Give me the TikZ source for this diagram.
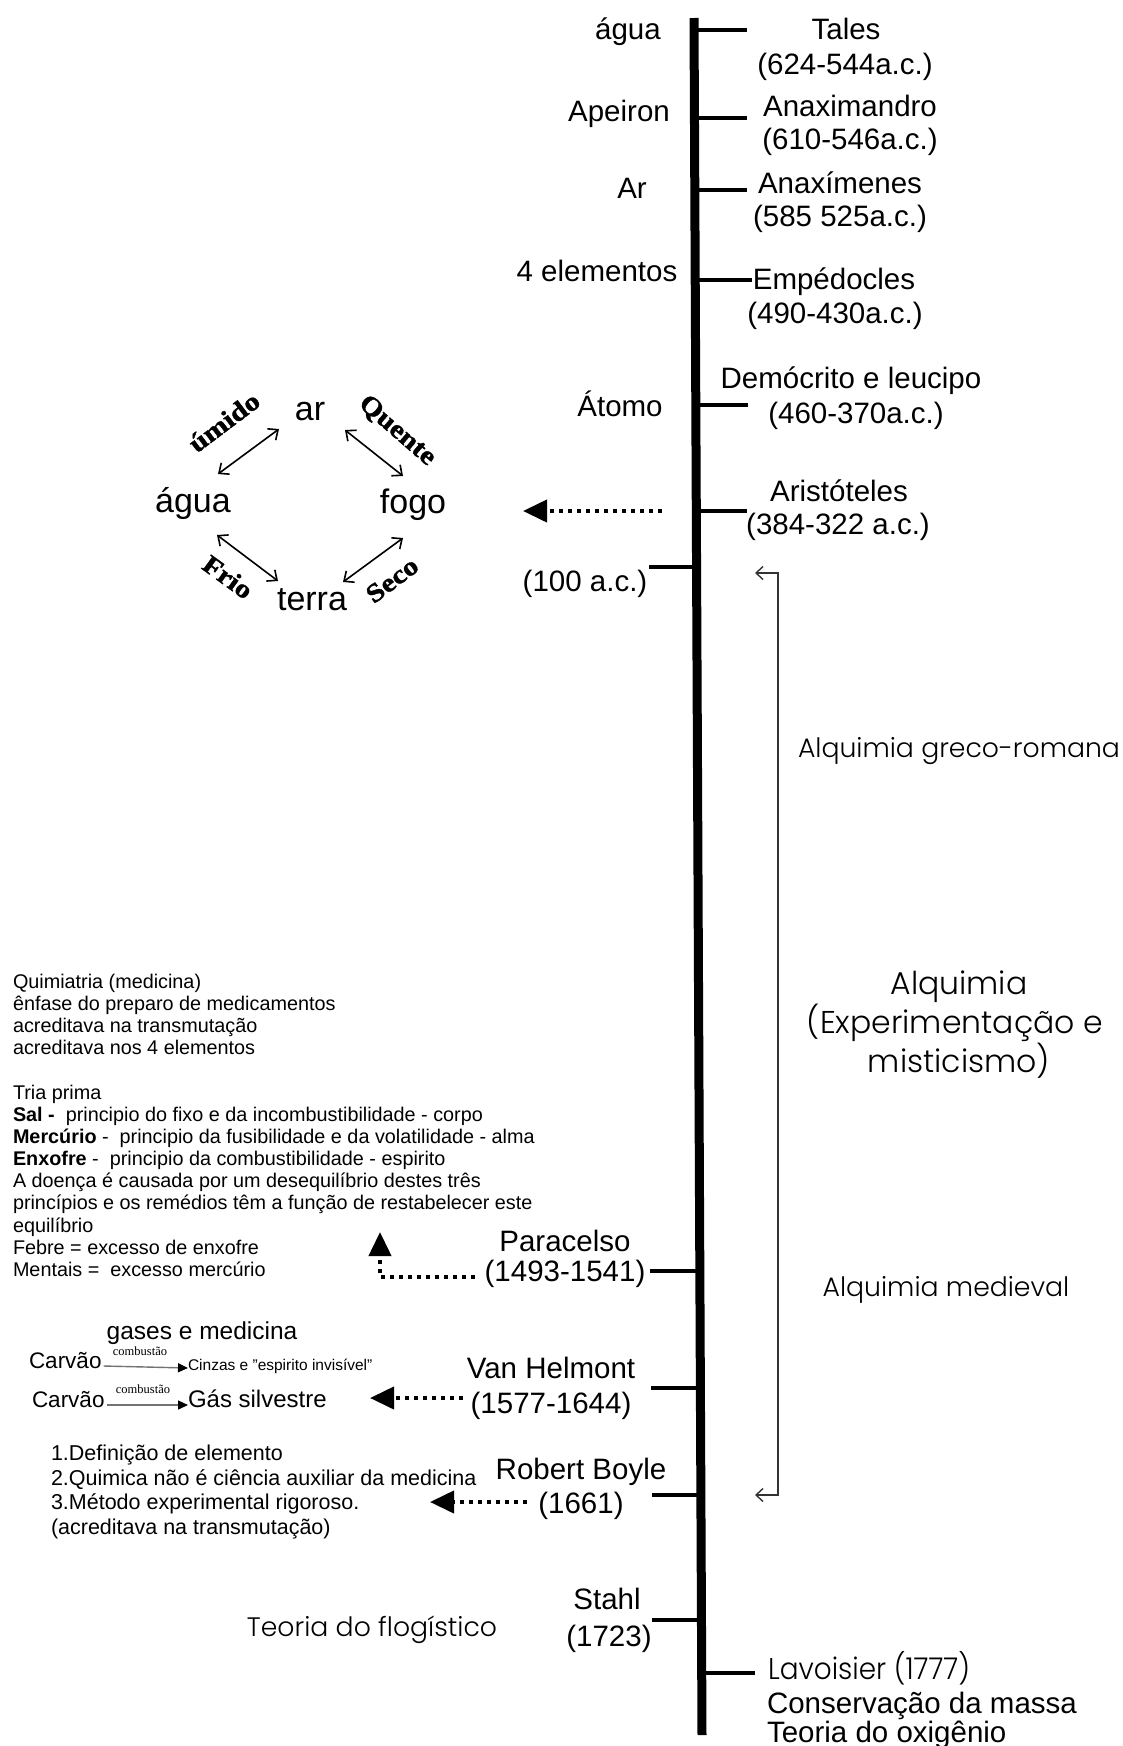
\documentclass[tikz,border=0pt]{standalone}
\usepackage{fontspec}
\setmainfont{Liberation Sans}
\newfontfamily\gothic{Poppins Light}
\newfontfamily\gothicn[FakeStretch=0.93]{Poppins Light}
\newfontfamily\timesf{Liberation Serif}
\newfontfamily\timeswide[FakeStretch=1.15, BoldFeatures={FakeBold=1.5}]{Liberation Serif}
\usetikzlibrary{arrows.meta}
\begin{document}
\begin{tikzpicture}[x=1pt,y=-1pt,
  every node/.style={inner sep=0pt, outer sep=0pt},
  big/.style={font=\fontsize{29.5}{34}\selectfont, anchor=mid, yshift=-6pt},
  elem/.style={font=\fontsize{34}{40}\selectfont, anchor=mid, yshift=-8pt},
  qual/.style={font=\timeswide\bfseries\fontsize{26}{30}\selectfont},
  goth/.style={font=\gothic\fontsize{26.7}{32}\selectfont, anchor=mid, yshift=-5pt},
  gothbig/.style={font=\gothic\fontsize{31.5}{38}\selectfont, anchor=mid, yshift=-7pt},
  axisline/.style={line width=9pt},
  tickline/.style={line width=4pt},
  dotarrow/.style={line width=4pt, dash pattern=on 4pt off 5pt, -{Triangle[length=24pt,width=22pt]}},
  dblarrow/.style={line width=1.6pt, {Straight Barb[length=8pt,width=14pt]}-{Straight Barb[length=8pt,width=14pt]}},
  combarrow/.style={line width=1.4pt, draw=black!55, -{Triangle[length=10pt,width=9pt,color=black]}},
  bracketline/.style={line width=1.4pt, draw=black!80, {Straight Barb[length=7pt,width=13pt]}-{Straight Barb[length=7pt,width=13pt]}}
]
\fill[white] (0,0) rectangle (1123,1746);
\useasboundingbox (0,0) rectangle (1123,1746);

% main axis
\coordinate (axTop) at (694,18);
\coordinate (axBot) at (702,1735);
\draw[axisline] (axTop) -- (axBot);

% points on the axis
\coordinate (tTales) at (694,30);
\coordinate (tAnaximandro) at (694.5,118);
\coordinate (tAnaximenes) at (694.8,190);
\coordinate (tEmpedocles) at (695.2,280);
\coordinate (tDemocrito) at (695.8,405);
\coordinate (tAristoteles) at (696.3,511);
\coordinate (tCem) at (696.6,567);
\coordinate (tParacelso) at (699.8,1271);
\coordinate (tHelmont) at (700.4,1388);
\coordinate (tBoyle) at (700.9,1495);
\coordinate (tStahl) at (701.5,1620);
\coordinate (tLavoisier) at (701.7,1673);

% ticks
\draw[tickline] (tTales) -- (747,30);
\draw[tickline] (tAnaximandro) -- (747,118);
\draw[tickline] (tAnaximenes) -- (747,190);
\draw[tickline] (tEmpedocles) -- (752,280);
\draw[tickline] (tDemocrito) -- (748,405);
\draw[tickline] (tAristoteles) -- (747,511);
\draw[tickline] (tCem) -- (649,567);
\draw[tickline] (tParacelso) -- (650,1271);
\draw[tickline] (tHelmont) -- (651,1388);
\draw[tickline] (tBoyle) -- (652,1495);
\draw[tickline] (tStahl) -- (652,1620);
\draw[tickline] (tLavoisier) -- (755,1673);

% right texts (top)
\node[big] (tales) at (846,31) {Tales};
\node[big] (talesD) at (845,66) {(624-544a.c.)};
\node[big] (anaximandro) at (850,108) {Anaximandro};
\node[big] (anaximandroD) at (850,141) {(610-546a.c.)};
\node[big] (anaximenes) at (840,185) {Anaxímenes};
\node[big] (anaximenesD) at (840,218) {(585 525a.c.)};
\node[big] (empedocles) at (834,281) {Empédocles};
\node[big] (empedoclesD) at (835,315) {(490-430a.c.)};
\node[big] (democrito) at (851,380) {Demócrito e leucipo};
\node[big] (democritoD) at (856,415) {(460-370a.c.)};
\node[big] (aristoteles) at (839,493) {Aristóteles};
\node[big] (aristotelesD) at (838,526) {(384-322 a.c.)};

% left texts (top)
\node[big] (aguaT) at (628,31) {água};
\node[big] (apeiron) at (619,113) {Apeiron};
\node[big] (arT) at (632,190) {Ar};
\node[big] (quatro) at (597,273) {4 elementos};
\node[big] (atomo) at (620,408) {Átomo};
\node[big] (cem) at (585,583) {(100 a.c.)};

% Aristoteles arrow
\coordinate (arStart) at (662,511);
\coordinate (arTip) at (523,511);
\draw[dotarrow] (arStart) -- (arTip);

% four elements diagram
\node[elem] (ar) at (310,410) {ar};
\node[elem] (agua) at (193,502) {água};
\node[elem] (fogo) at (413,503) {fogo};
\node[elem] (terra) at (312,600) {terra};
\coordinate (e1a) at (218,474); \coordinate (e1b) at (279,429);
\coordinate (e2a) at (345,430); \coordinate (e2b) at (403,476);
\coordinate (e3a) at (217,535); \coordinate (e3b) at (278,581);
\coordinate (e4a) at (403,538); \coordinate (e4b) at (343,582);
\draw[dblarrow] (e1a) -- (e1b);
\draw[dblarrow] (e2a) -- (e2b);
\draw[dblarrow] (e3a) -- (e3b);
\draw[dblarrow] (e4a) -- (e4b);
\node[qual, rotate=37] (umido) at (224,422) {úmido};
\node[qual, rotate=-41] (quente) at (397,431) {Quente};
\node[qual, rotate=-36] (frio) at (228,577) {Frio};
\node[qual, rotate=37] (seco) at (392,580) {Seco};

% bracket on the right
\coordinate (brA) at (755,573);
\coordinate (brTop) at (778,573);
\coordinate (brBot) at (778,1495);
\coordinate (brB) at (755,1495);
\draw[bracketline] (brA) -- (brTop) -- (brBot) -- (brB);

\node[goth] (greco) at (959,750) {Alquimia greco-romana};
\node[gothbig] (alq1) at (959,985) {Alquimia};
\node[gothbig] (alq2) at (955,1024) {(Experimentação e};
\node[gothbig] (alq3) at (959,1063) {misticismo)};
\node[goth] (medieval) at (946,1289) {Alquimia medieval};

% Paracelso
\node[anchor=north west, align=left, font=\fontsize{19.8}{22.15}\selectfont] (paraTxt) at (13,974) {%
Quimiatria (medicina)\\
ênfase do preparo de medicamentos\\
acreditava na transmutação\\
acreditava nos 4 elementos\\[22.15pt]
Tria prima\\
\textbf{Sal -}\ \ principio do fixo e da incombustibilidade - corpo\\
\textbf{Mercúrio} -\ \ principio da fusibilidade e da volatilidade - alma\\
\textbf{Enxofre} -\ \ principio da combustibilidade - espirito\\
A doença é causada por um desequilíbrio destes três\\
princípios e os remédios têm a função de restabelecer este\\
equilíbrio\\
Febre = excesso de enxofre\\
Mentais =\ \ excesso mercúrio};
\node[big] (paracelso) at (565,1243) {Paracelso};
\node[big] (paracelsoD) at (565,1273) {(1493-1541)};
\coordinate (paStart) at (475,1277);
\coordinate (paCorner) at (380,1277);
\coordinate (paTip) at (380,1232);
\draw[dotarrow] (paStart) -- (paCorner) -- (paTip);

% Van Helmont
\node[font=\fontsize{24.5}{28}\selectfont, anchor=mid, yshift=-3pt] (gases) at (202,1334) {gases e medicina};
\node[font=\fontsize{22.5}{26}\selectfont, anchor=mid west] (carv1) at (29,1366) {Carvão};
\node[font=\fontsize{15.5}{18}\selectfont, anchor=mid west] (cinz) at (188,1368) {Cinzas e "espirito invisível"};
\node[font=\fontsize{22.5}{26}\selectfont, anchor=mid west] (carv2) at (32,1405) {Carvão};
\node[font=\fontsize{24}{28}\selectfont, anchor=mid west] (gas) at (188,1405) {Gás silvestre};
\draw[combarrow] ([xshift=2pt]carv1.mid east) -- (cinz.mid west);
\draw[combarrow] ([xshift=2pt]carv2.mid east) -- (gas.mid west);
\node[font=\timesf\fontsize{12.5}{14}\selectfont, anchor=mid] (comb1) at (140,1353) {combustão};
\node[font=\timesf\fontsize{12.5}{14}\selectfont, anchor=mid] (comb2) at (143,1391) {combustão};
\node[big] (helmont) at (551,1370) {Van Helmont};
\node[big] (helmontD) at (551,1405) {(1577-1644)};
\coordinate (vhStart) at (463,1398);
\coordinate (vhTip) at (370,1398);
\draw[dotarrow] (vhStart) -- (vhTip);

% Boyle
\node[anchor=north west, align=left, font=\fontsize{21.5}{24.5}\selectfont] (boyleTxt) at (51,1445) {%
1.Definição de elemento\\
2.Quimica não é ciência auxiliar da medicina\\
3.Método experimental rigoroso.\\
(acreditava na transmutação)};
\node[big] (boyle) at (581,1471) {Robert Boyle};
\node[big] (boyleD) at (581,1505) {(1661)};
\coordinate (bStart) at (527,1502);
\coordinate (bTip) at (430,1502);
\draw[dotarrow] (bStart) -- (bTip);

% Stahl
\node[big] (stahl) at (607,1601) {Stahl};
\node[big] (stahlD) at (609,1638) {(1723)};
\node[goth] (flog) at (372,1629) {Teoria do flogístico};

% Lavoisier
\node[font=\gothicn\fontsize{30}{34}\selectfont, anchor=mid west, yshift=-5pt] (lav) at (768,1672) {Lavoisier (1777)};
\node[big, anchor=mid west] (cons) at (767,1705) {Conservação da massa};
\node[big, anchor=mid west] (teoria) at (767,1734) {Teoria do oxigênio};
\end{tikzpicture}
\end{document}
